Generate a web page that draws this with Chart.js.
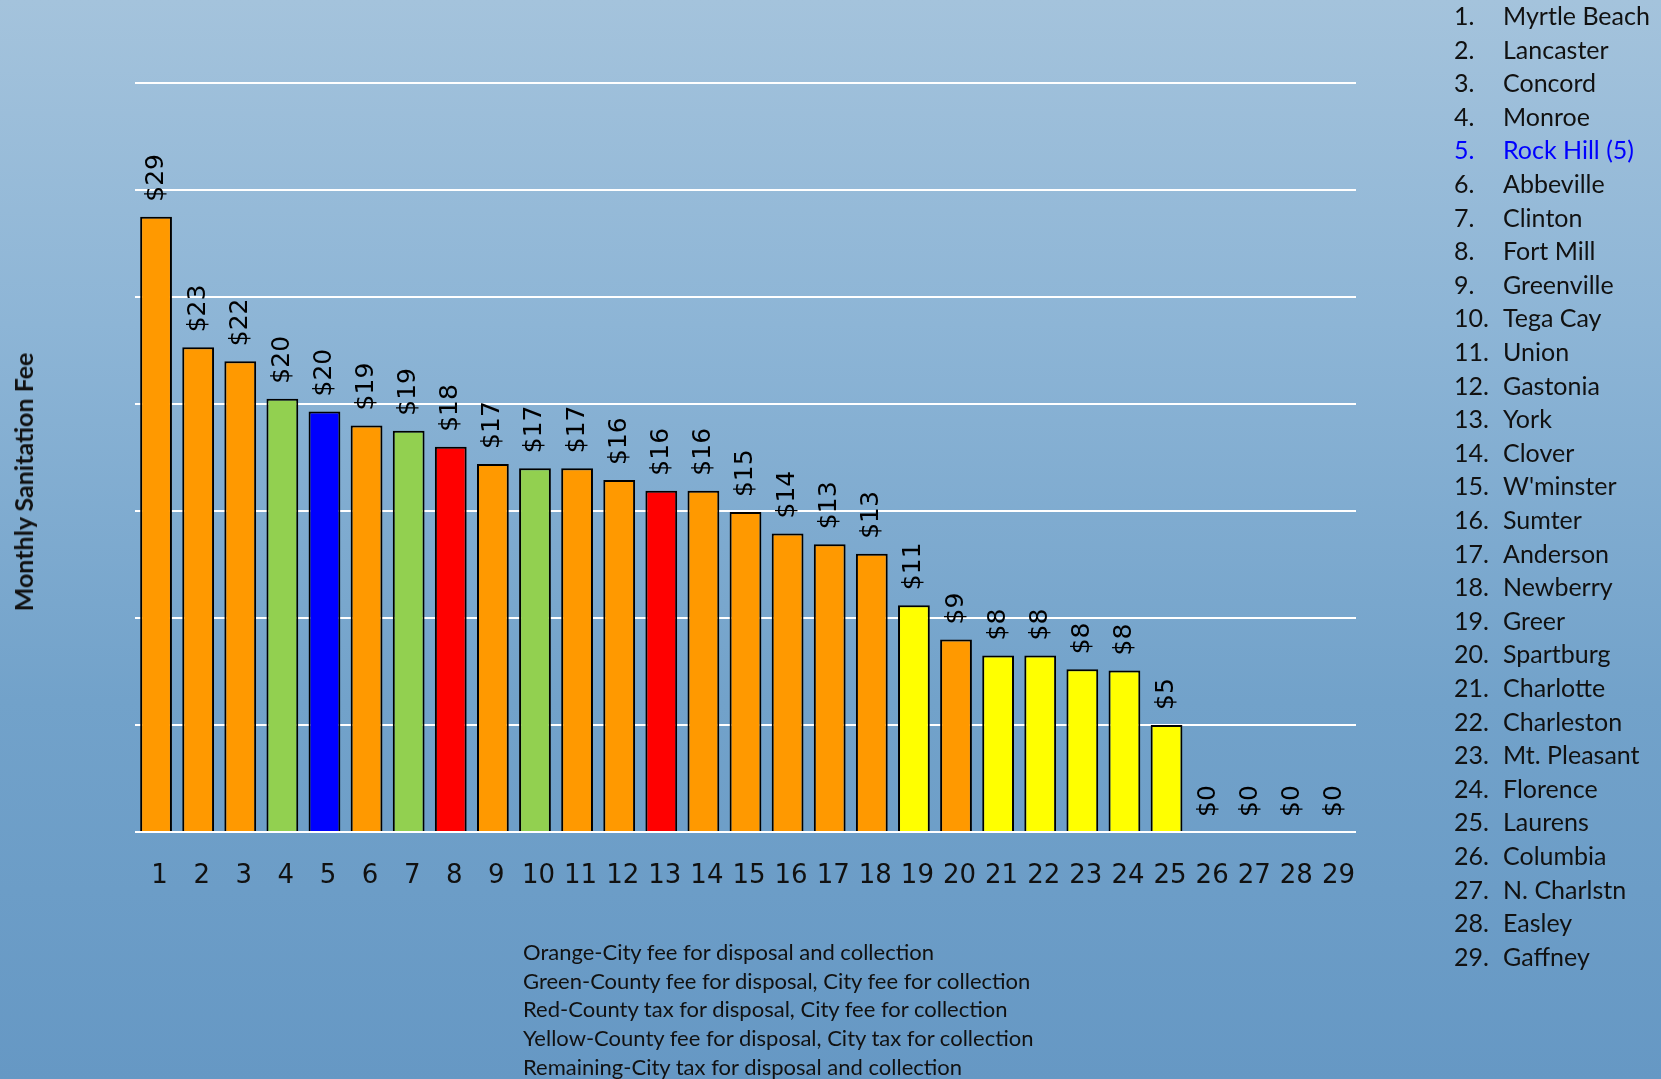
<!DOCTYPE html>
<html>
<head>
<meta charset="utf-8">
<script src="https://cdn.jsdelivr.net/npm/chart.js@4.4.1/dist/chart.umd.min.js"></script>
<style>
  html, body { margin: 0; padding: 0; }
  body {
    width: 1661px; height: 1079px; overflow: hidden; position: relative;
    background: linear-gradient(180deg, #a4c3dc 0%, #8db5d6 30%, #72a2ca 65%, #6698c4 100%);
    font-family: Lato, "Open Sans", sans-serif;
  }
  #chart { position: absolute; left: 0; top: 0; }
  #ytitle {
    position: absolute; left: 23px; top: 482px;
    transform: translate(-50%, -50%) rotate(-90deg);
    font-weight: bold; font-size: 25px; color: #111; white-space: nowrap;
  }
  #cities { position: absolute; left: 1454px; top: 0; font-size: 25px; color: #111; }
  #cities div { position: absolute; white-space: nowrap; height: 30px; line-height: 30px; }
  #cities span.num { position: absolute; left: 0; }
  #cities span.name { position: absolute; left: 49px; }
  #notes { position: absolute; left: 523px; top: 938px; font-size: 22px; line-height: 28.7px; color: #111; white-space: nowrap; }
</style>
</head>
<body>
<canvas id="chart" width="1661" height="1079"></canvas>
<div id="ytitle">Monthly Sanitation Fee</div>
<div id="cities"></div>
<div id="notes"></div>
<script>
// city list on the right (rank order)
var cities = ['Myrtle Beach','Lancaster','Concord','Monroe','Rock Hill (5)','Abbeville','Clinton','Fort Mill',
  'Greenville','Tega Cay','Union','Gastonia','York','Clover',"W'minster",'Sumter','Anderson','Newberry',
  'Greer','Spartburg','Charlotte','Charleston','Mt. Pleasant','Florence','Laurens','Columbia',
  'N. Charlstn','Easley','Gaffney'];
var ranks = cities.map(function(c, i){ return String(i + 1); });

// monthly fee ($)
var fees = [28.75, 22.65, 22.0, 20.25, 19.65, 19.0, 18.75, 18.0, 17.2, 17.0, 17.0, 16.45, 15.95, 15.95,
  14.95, 13.95, 13.45, 13.0, 10.6, 9.0, 8.25, 8.25, 7.6, 7.55, 5.0, 0, 0, 0, 0];

// fee type per city: O=orange, G=green, R=red, Y=yellow, B=Rock Hill
var feeType = ['O','O','O','G','B','O','G','R','O','G','O','O','R','O','O','O','O','O',
  'Y','O','Y','Y','Y','Y','Y','-','-','-','-'];
var typeColors = { O: '#ff9900', G: '#92d050', R: '#ff0000', Y: '#ffff00', B: '#0000ff', '-': '#ff9900' };

var yTicks = [0, 5, 10, 15, 20, 25, 30, 35];

var notes = [
  'Orange-City fee for disposal and collection',
  'Green-County fee for disposal, City fee for collection',
  'Red-County tax for disposal, City fee for collection',
  'Yellow-County fee for disposal, City tax for collection',
  'Remaining-City tax for disposal and collection'
];

// side list
var list = document.getElementById('cities');
cities.forEach(function(c, i){
  var row = document.createElement('div');
  row.style.top = (i * 33.6) + 'px';
  if (i === 4) row.style.color = '#0000ff';
  row.innerHTML = '<span class="num"></span><span class="name"></span>';
  row.children[0].textContent = ranks[i] + '.';
  row.children[1].textContent = c;
  list.appendChild(row);
});
document.getElementById('notes').innerHTML = notes.map(function(n){ return '<div></div>'; }).join('');
Array.prototype.forEach.call(document.querySelectorAll('#notes div'), function(d, i){ d.textContent = notes[i]; });

// dollar labels standing on the bars
var barLabels = {
  id: 'barLabels',
  afterDatasetsDraw: function(chart){
    var ctx = chart.ctx;
    var meta = chart.getDatasetMeta(0);
    ctx.save();
    ctx.font = '25px "DejaVu Sans"';
    ctx.fillStyle = '#000';
    ctx.textAlign = 'left';
    ctx.textBaseline = 'middle';
    meta.data.forEach(function(bar, i){
      ctx.save();
      ctx.translate(bar.x, bar.y - 15);
      ctx.rotate(-Math.PI / 2);
      ctx.fillText('$' + Math.round(fees[i]), 0, 0);
      ctx.restore();
    });
    ctx.restore();
  }
};

var ctx = document.getElementById('chart');
new Chart(ctx, {
  type: 'bar',
  data: {
    labels: ranks,
    datasets: [{
      data: fees,
      backgroundColor: feeType.map(function(t){ return typeColors[t]; }),
      borderColor: '#000',
      borderWidth: 2,
      barPercentage: 0.755,
      categoryPercentage: 1
    }]
  },
  options: {
    responsive: false,
    animation: false,
    layout: { padding: { left: 135, right: 305, top: 83, bottom: 0 } },
    plugins: { legend: { display: false }, tooltip: { enabled: false } },
    scales: {
      x: {
        grid: { display: false },
        border: { display: false },
        ticks: { color: '#111', font: { family: 'DejaVu Sans', size: 26 }, padding: 21, labelOffset: 3.5, maxRotation: 0, autoSkip: false },
        afterFit: function(s){ s.height = 1079 - 832; }
      },
      y: {
        min: yTicks[0], max: yTicks[yTicks.length - 1],
        afterBuildTicks: function(s){ s.ticks = yTicks.map(function(v){ return { value: v }; }); },
        grid: { color: '#ffffff', lineWidth: 2, drawTicks: false },
        border: { display: false },
        ticks: { display: false },
        afterFit: function(s){ s.width = 0; }
      }
    }
  },
  plugins: [barLabels]
});
</script>
</body>
</html>
